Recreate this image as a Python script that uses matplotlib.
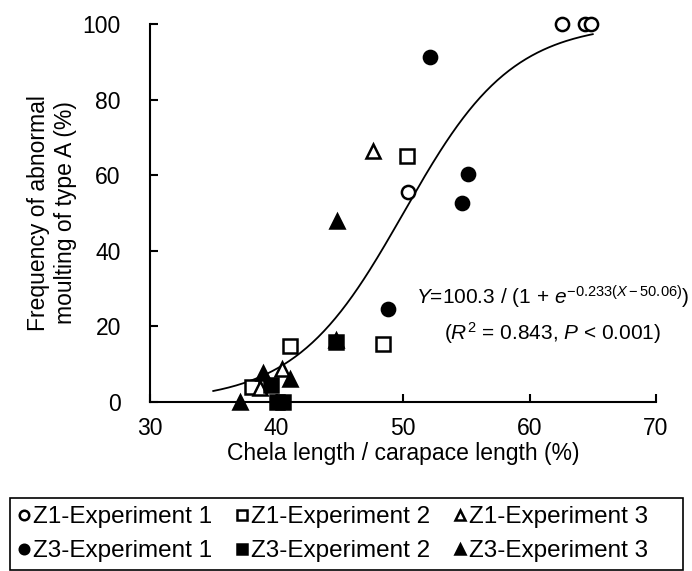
import numpy as np
import matplotlib
matplotlib.use("Agg")
import matplotlib.pyplot as plt
from matplotlib.patches import Rectangle

plt.rcParams['font.family'] = ['Liberation Sans', 'DejaVu Sans']
plt.rcParams['mathtext.fontset'] = 'custom'
plt.rcParams['mathtext.rm'] = 'Liberation Sans'
plt.rcParams['mathtext.it'] = 'Liberation Sans:italic'

# Data (chela length / carapace length %, frequency %)
z1e1_x = [50.4, 62.6, 64.4, 64.9]
z1e1_y = [55.6, 100, 100, 100]
z1e2_x = [38.1, 41.1, 48.4, 50.3]
z1e2_y = [3.9, 14.8, 15.3, 65.1]
z1e3_x = [38.7, 40.4, 47.6]
z1e3_y = [3.7, 8.7, 66.3]
z3e1_x = [48.8, 52.1, 54.7, 55.1]
z3e1_y = [24.6, 91.2, 52.6, 60.3]
z3e2_x = [39.6, 40.0, 40.5, 44.7]
z3e2_y = [4.5, 0, 0, 16.0]
z3e3_x = [37.1, 38.9, 41.1, 44.7, 44.8]
z3e3_y = [0, 7.7, 6.1, 16.5, 48]

# logistic fit parameters
fit_a, fit_b, fit_c = 100.3, 0.233, 50.06
fit_range = (35.0, 65.0)

fig = plt.figure(figsize=(6.92, 5.71), dpi=100)
ax = fig.add_axes([150 / 692, 1 - 402 / 571, 506 / 692, 378 / 571])

xs = np.linspace(fit_range[0], fit_range[1], 200)
ax.plot(xs, fit_a / (1 + np.exp(-fit_b * (xs - fit_c))), color='black', lw=1.3, zorder=1)

ms = 9.5
mew = 1.8
series = [
    ("Z1-Experiment 1", z1e1_x, z1e1_y, 'o', 'white'),
    ("Z1-Experiment 2", z1e2_x, z1e2_y, 's', 'white'),
    ("Z1-Experiment 3", z1e3_x, z1e3_y, '^', 'white'),
    ("Z3-Experiment 1", z3e1_x, z3e1_y, 'o', 'black'),
    ("Z3-Experiment 2", z3e2_x, z3e2_y, 's', 'black'),
    ("Z3-Experiment 3", z3e3_x, z3e3_y, '^', 'black'),
]
handles = {}
for label, x, y, m, fc in series:
    h, = ax.plot(x, y, linestyle='none', marker=m, ms=ms, mfc=fc, mec='black',
                 mew=mew, clip_on=False, zorder=3, label=label)
    handles[label] = h

ax.set_xlim(30, 70)
ax.set_ylim(0, 100)
ax.set_xticks([30, 40, 50, 60, 70])
ax.set_yticks([0, 20, 40, 60, 80, 100])
ax.spines['top'].set_visible(False)
ax.spines['right'].set_visible(False)
for s in ['left', 'bottom']:
    ax.spines[s].set_linewidth(1.5)
ax.tick_params(direction='in', length=6, width=1.5, labelsize=16.5)
ax.tick_params(axis='x', pad=11)
ax.tick_params(axis='y', pad=21)

ax.set_xlabel("Chela length / carapace length (%)", fontsize=16.5, labelpad=1)
ax.set_ylabel("Frequency of abnormal\nmoulting of type A (%)", fontsize=16.5)
ax.yaxis.set_label_coords(-0.145, 0.5)

ax.text(0.796, 0.278, r"$Y$=100.3 / (1 + $e^{-0.233(X - 50.06)}$)",
        transform=ax.transAxes, ha='center', va='center', fontsize=15)
ax.text(0.796, 0.183, r"($R^2$ = 0.843, $P$ < 0.001)",
        transform=ax.transAxes, ha='center', va='center', fontsize=15)

# legend box spans the full width of the figure
fig.patches.append(Rectangle((10 / 692, 1 / 571), 673 / 692, 72 / 571,
                             transform=fig.transFigure, fill=False,
                             edgecolor='black', lw=1.2))
order = ["Z1-Experiment 1", "Z3-Experiment 1", "Z1-Experiment 2",
         "Z3-Experiment 2", "Z1-Experiment 3", "Z3-Experiment 3"]
leg = fig.legend([handles[k] for k in order], order, ncol=3,
                 loc='upper left', bbox_to_anchor=(10 / 692, 1 - 499 / 571),
                 fontsize=17.5, markerscale=0.72, handlelength=0.55,
                 handletextpad=0.1, columnspacing=0.95, labelspacing=0.5,
                 frameon=False, borderaxespad=0.0, borderpad=0.3)

fig.savefig("out.png", dpi=100)
